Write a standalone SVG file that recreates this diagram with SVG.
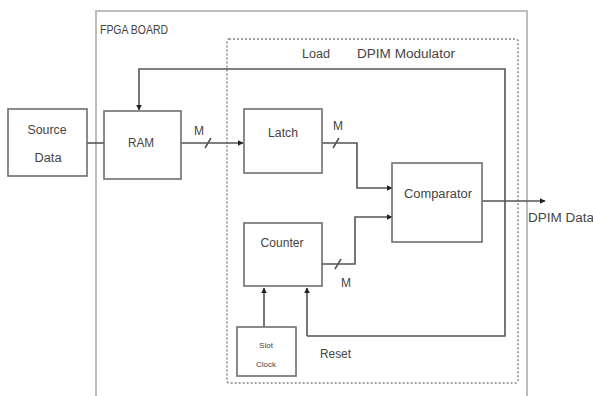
<svg xmlns="http://www.w3.org/2000/svg" width="593" height="396" viewBox="0 0 593 396">
<defs>
<marker id="arr" viewBox="0 0 10 10" refX="9" refY="5" markerWidth="6" markerHeight="6" orient="auto" markerUnits="userSpaceOnUse">
<path d="M0,0 L10,5 L0,10 z" fill="#222"/>
</marker>
<style>
.box{fill:#fff;stroke:#6e6e6e;stroke-width:1.6}
.wire{fill:none;stroke:#555;stroke-width:1.6}
text{font-family:"Liberation Sans","Open Sans",sans-serif;fill:#444}
.t{font-size:12px;text-anchor:middle}
.ts{font-size:8px;text-anchor:middle}
.tl{font-size:12px}
</style>
</defs>
<rect width="593" height="396" fill="#fff"/>
<g id="fpga-board">
<path d="M96,396 L96,11 L527,11 L527,396" fill="none" stroke="#bdbdbd" stroke-width="2"/>
<text class="tl" x="100" y="34" textLength="68" lengthAdjust="spacingAndGlyphs">FPGA BOARD</text>
</g>
<g id="dpim-modulator">
<rect x="227" y="39" width="291" height="344" fill="none" stroke="#888" stroke-width="1.5" stroke-dasharray="2,2" rx="2"/>
<text class="tl" x="302" y="58" textLength="28" lengthAdjust="spacingAndGlyphs">Load</text>
<text class="tl" x="357" y="58" textLength="98" lengthAdjust="spacingAndGlyphs">DPIM Modulator</text>
</g>
<g id="connectors">
<path class="wire" d="M87,143 H104"/>
<path class="wire" d="M181,143 H243" marker-end="url(#arr)"/>
<path class="wire" d="M205,148 L211,138"/>
<path class="wire" d="M322,143 H357 V188 H392" marker-end="url(#arr)"/>
<path class="wire" d="M333,148 L339,138"/>
<path class="wire" d="M322,264 H355 V217 H392" marker-end="url(#arr)"/>
<path class="wire" d="M335,269 L341,259"/>
<path class="wire" d="M482,201 H545" marker-end="url(#arr)"/>
<path class="wire" d="M307,336 H505 V69 H139 V110" marker-end="url(#arr)"/>
<path class="wire" d="M307,336 V288" marker-end="url(#arr)"/>
<path class="wire" d="M264,327 V288" marker-end="url(#arr)"/>
<text class="tl" x="194" y="135">M</text>
<text class="tl" x="333" y="130">M</text>
<text class="tl" x="341" y="287">M</text>
<text class="tl" x="320" y="358" textLength="31" lengthAdjust="spacingAndGlyphs">Reset</text>
<text class="tl" x="528" y="222" textLength="66" lengthAdjust="spacingAndGlyphs">DPIM Data</text>
</g>
<g id="source-data">
<rect class="box" x="8" y="109" width="79" height="67"/>
<text class="t" x="47" y="134" textLength="39" lengthAdjust="spacingAndGlyphs">Source</text>
<text class="t" x="48" y="162" textLength="27" lengthAdjust="spacingAndGlyphs">Data</text>
</g>
<g id="ram">
<rect class="box" x="104" y="111" width="77" height="68"/>
<text class="t" x="141" y="147" textLength="26" lengthAdjust="spacingAndGlyphs">RAM</text>
</g>
<g id="latch">
<rect class="box" x="244" y="109" width="78" height="64"/>
<text class="t" x="283" y="137" textLength="30" lengthAdjust="spacingAndGlyphs">Latch</text>
</g>
<g id="comparator">
<rect class="box" x="392" y="163" width="90" height="79"/>
<text class="t" x="438" y="198" textLength="68" lengthAdjust="spacingAndGlyphs">Comparator</text>
</g>
<g id="counter">
<rect class="box" x="244" y="223" width="78" height="63"/>
<text class="t" x="282" y="247" textLength="43" lengthAdjust="spacingAndGlyphs">Counter</text>
</g>
<g id="slot-clock">
<rect class="box" x="237" y="327" width="59" height="49"/>
<text class="ts" x="266" y="348">Slot</text>
<text class="ts" x="266" y="367">Clock</text>
</g>
</svg>
